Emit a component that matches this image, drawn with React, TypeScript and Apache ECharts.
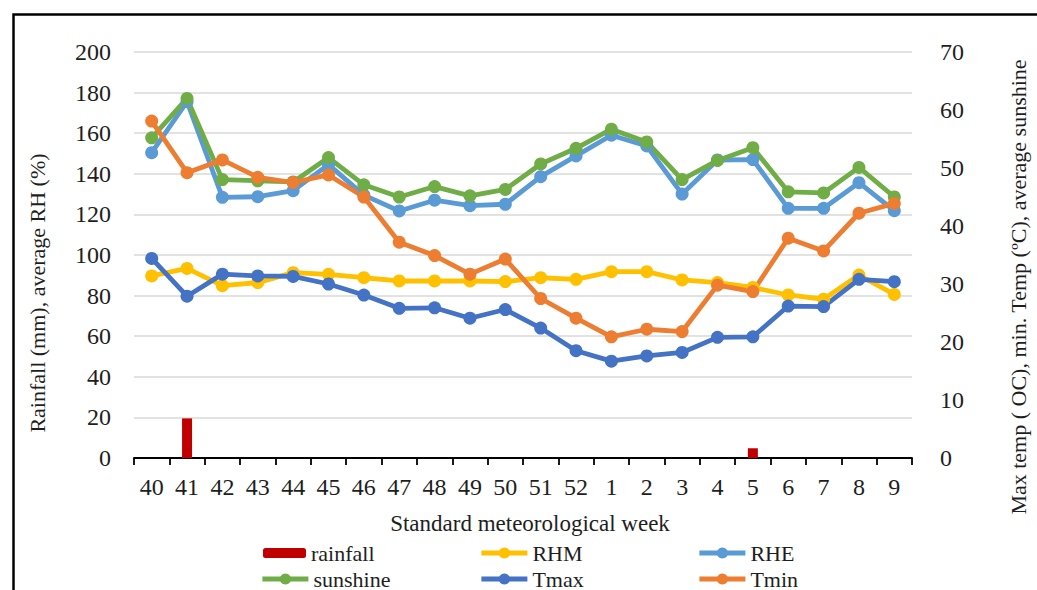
import React, { useEffect, useRef } from "react";
import * as echarts from "echarts";

const weeks = ["40","41","42","43","44","45","46","47","48","49","50","51","52","1","2","3","4","5","6","7","8","9"];
const rainfall = [0,19.5,0,0,0,0,0,0,0,0,0,0,0,0,0,0,0,4.8,0,0,0,0];
const rhm = [89.7,93.4,84.9,86.4,91.3,90.5,88.8,87.2,87.2,87.2,86.9,88.8,88,91.8,91.8,87.7,86.4,84,80.3,78.2,90.1,80.6];
const rhe = [150.4,175.5,128.4,128.7,131.7,144.5,129.5,121.7,127,124.3,125,138.6,148.8,159,153.7,130,146.8,147,123,123,135.6,121.8];
const sunshine = [55.2,62.0,48.0,47.8,47.6,51.8,47.1,45.0,46.8,45.2,46.3,50.7,53.4,56.7,54.5,48.0,51.3,53.5,45.9,45.7,50.1,45.0];
const tmax = [34.4,27.9,31.7,31.4,31.3,30.0,28.1,25.8,25.9,24.1,25.6,22.4,18.5,16.7,17.6,18.2,20.8,20.9,26.2,26.1,30.8,30.4];
const tmin = [58.1,49.2,51.4,48.4,47.5,48.8,45.0,37.2,34.9,31.7,34.3,27.5,24.1,20.9,22.2,21.8,29.8,28.7,37.9,35.7,42.2,43.9];

const FONT = "Liberation Serif";
const TXT = "#1e1e1e";

export default function App() {
  const ref = useRef<HTMLDivElement>(null);
  useEffect(() => {
    if (!ref.current) return;
    const chart = echarts.init(ref.current, undefined, { renderer: "svg" });
    const lineSeries = (name: string, data: number[], color: string, yAxisIndex: number) => ({
      name,
      type: "line",
      data,
      yAxisIndex,
      symbol: "circle",
      symbolSize: 13,
      lineStyle: { color, width: 4.8 },
      itemStyle: { color },
      z: 3,
    });
    const legendItem = (name: string, left: number, top: number, w: number, h: number) => ({
      data: [name],
      left,
      top,
      itemWidth: w,
      itemHeight: h,
      padding: 0,
      selectedMode: false,
      lineStyle: { width: 4.8 },
      textStyle: { fontFamily: FONT, fontSize: 22, color: TXT },
    });
    chart.setOption({
      animation: false,
      backgroundColor: "#fff",
      textStyle: { fontFamily: FONT },
      grid: { left: 134, right: 120, top: 52, bottom: 132, containLabel: false },
      xAxis: {
        type: "category",
        data: weeks,
        boundaryGap: true,
        name: "Standard meteorological week",
        nameLocation: "middle",
        nameGap: 54,
        nameTextStyle: { fontFamily: FONT, fontSize: 23, color: TXT, padding: [0, 0, 0, 14] },
        axisLine: { lineStyle: { color: "#000", width: 1.8 } },
        axisTick: { show: true, alignWithLabel: false, length: 7, lineStyle: { color: "#000", width: 1.8 } },
        axisLabel: { fontFamily: FONT, fontSize: 24, color: TXT, margin: 17 },
      },
      yAxis: [
        {
          type: "value",
          min: 0,
          max: 200,
          interval: 20,
          name: "Rainfall (mm), average RH (%)",
          nameLocation: "middle",
          nameRotate: 90,
          nameGap: 86,
          nameTextStyle: { fontFamily: FONT, fontSize: 22, color: TXT, padding: [0, 76, 0, 0] },
          axisLine: { show: false },
          axisTick: { show: false },
          axisLabel: { fontFamily: FONT, fontSize: 24, color: TXT, margin: 23 },
          splitLine: { lineStyle: { color: "#d9d9d9", width: 1.5 } },
        },
        {
          type: "value",
          min: 0,
          max: 70,
          interval: 10,
          position: "right",
          name: "Max temp ( OC), min. Temp (ºC), average sunshine",
          nameLocation: "middle",
          nameRotate: 90,
          nameGap: 95,
          nameTextStyle: { fontFamily: FONT, fontSize: 22, color: TXT, padding: [0, 64, 0, 0] },
          axisLine: { show: false },
          axisTick: { show: false },
          axisLabel: { fontFamily: FONT, fontSize: 24, color: TXT, margin: 28 },
          splitLine: { show: false },
        },
      ],
      legend: [
        legendItem("rainfall", 263, 542, 43, 10),
        legendItem("RHM", 479, 542, 46, 14),
        legendItem("RHE", 697, 542, 46, 14),
        legendItem("sunshine", 260, 568, 46, 14),
        legendItem("Tmax", 479, 568, 46, 14),
        legendItem("Tmin", 697, 568, 46, 14),
      ],
      series: [
        {
          name: "rainfall",
          type: "bar",
          data: rainfall,
          yAxisIndex: 0,
          barWidth: 10,
          itemStyle: { color: "#c00000" },
          z: 2,
        },
        lineSeries("RHM", rhm, "#ffc000", 0),
        lineSeries("RHE", rhe, "#5b9bd5", 0),
        lineSeries("sunshine", sunshine, "#70ad47", 1),
        lineSeries("Tmax", tmax, "#4472c4", 1),
        lineSeries("Tmin", tmin, "#ed7d31", 1),
      ],
      graphic: [
        {
          type: "rect",
          left: 11,
          top: 12,
          shape: { x: 0, y: 0, width: 1100, height: 700 },
          style: { fill: "none", stroke: "#000", lineWidth: 2.5 },
          silent: true,
        },
      ],
    });
    return () => chart.dispose();
  }, []);
  return (
    <div
      ref={ref}
      style={{ position: "absolute", left: 0, top: 0, width: 1037, height: 590 }}
    />
  );
}
